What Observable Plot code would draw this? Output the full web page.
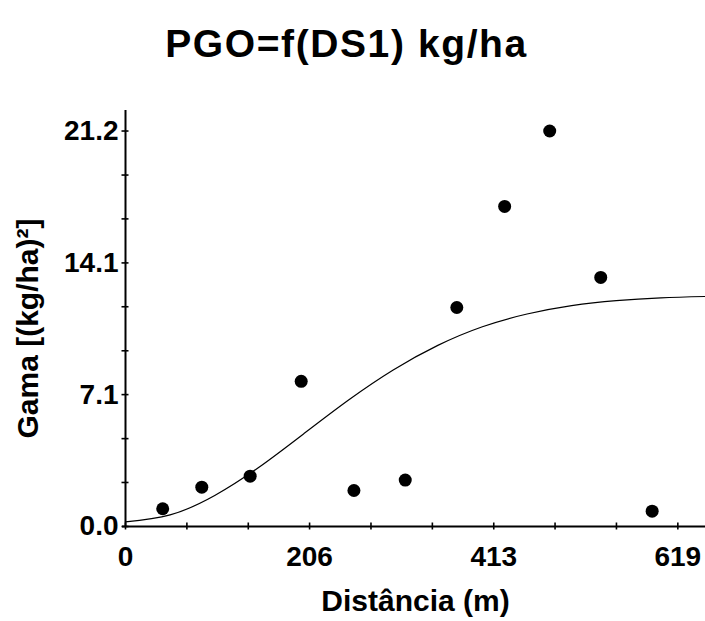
<!DOCTYPE html>
<html>
<head>
<meta charset="utf-8">
<script src="https://cdn.jsdelivr.net/npm/d3@7"></script>
<script src="https://cdn.jsdelivr.net/npm/@observablehq/plot@0.6"></script>
<style>
  html, body { margin: 0; padding: 0; background: #fff; }
  #wrap { position: relative; width: 705px; height: 621px; overflow: hidden; }
  #title { position: absolute; left: 0; top: 24px; width: 693px; text-align: center;
           font: bold 39px "Liberation Sans", Arial, sans-serif; letter-spacing: 1.6px; line-height: 1; color: #000; white-space: nowrap; }
  #chart { position: absolute; left: 0; top: 90px; }
</style>
</head>
<body>
<div id="wrap">
  <div id="title"></div>
  <div id="chart"></div>
</div>
<script>
// ---- data ----
const titleText = "PGO=f(DS1) kg/ha";
const xTitle = "Distância (m)";
const yTitle = "Gama [(kg/ha)²]";

const lagDistance = [41.7, 85.5, 139.7, 196.9, 256.0, 313.5, 371.3, 424.9, 475.4, 532.6, 590.2];
const gammaValues = [0.95, 2.11, 2.70, 7.78, 1.93, 2.49, 11.74, 17.16, 21.20, 13.35, 0.82];

const modelDistance = [0, 50, 100, 150, 200, 250, 300, 350, 400, 450, 500, 550, 600, 650];
const modelGamma = [0.25, 0.62, 1.66, 3.19, 4.98, 6.78, 8.39, 9.71, 10.71, 11.39, 11.84, 12.11, 12.26, 12.33];

const xTicks = [0, 68.8, 137.6, 206.3, 275.1, 343.9, 412.7, 481.4, 550.2, 619];
const xMajor = [0, 206.3, 412.7, 619];
const xLabels = ["0", "206", "413", "619"];

const yTicks = [0, 2.36, 4.71, 7.07, 9.42, 11.78, 14.13, 16.49, 18.84, 21.2];
const yMajor = [0, 7.07, 14.13, 21.2];
const yLabels = ["0.0", "7.1", "14.1", "21.2"];

// ---- build ----
document.getElementById("title").textContent = titleText;

const points = lagDistance.map((d, i) => ({x: d, y: gammaValues[i]}));
const model = modelDistance.map((d, i) => ({x: d, y: modelGamma[i]}));

const chart = Plot.plot({
  width: 705,
  height: 531,
  marginLeft: 125,
  marginRight: 0,
  marginTop: 20,
  marginBottom: 95,
  style: {fontFamily: "'Liberation Sans', Arial, sans-serif", fontWeight: "bold", fontSize: "28px", color: "#000", background: "#fff"},
  x: {domain: [0, 650]},
  y: {domain: [0, 22.3]},
  marks: [
    // axis lines
    Plot.ruleY([0], {stroke: "#000", strokeWidth: 2, insetLeft: -3}),
    Plot.ruleX([0], {stroke: "#000", strokeWidth: 2, insetBottom: -1}),
    // crossing ticks
    Plot.axisX(xTicks, {anchor: "bottom", tickSize: 7, dy: -3.5, strokeWidth: 1.6, tickFormat: () => "", label: null}),
    Plot.axisY(yTicks, {anchor: "left", tickSize: 7, dx: 3.5, strokeWidth: 1.6, tickFormat: () => "", label: null}),
    // tick labels
    Plot.axisX(xMajor, {anchor: "bottom", tickSize: 0, tickPadding: 20, tickFormat: d => xLabels[xMajor.indexOf(d)], label: null, fontSize: 28}),
    Plot.axisY(yMajor, {anchor: "left", tickSize: 0, tickPadding: 7, tickFormat: d => yLabels[yMajor.indexOf(d)], label: null, fontSize: 28}),
    // model curve
    Plot.line(model, {x: "x", y: "y", curve: "natural", stroke: "#000", strokeWidth: 1.2}),
    // experimental semivariogram points
    Plot.dot(points, {x: "x", y: "y", r: 6.5, fill: "#000", stroke: "none"}),
    // axis titles
    Plot.text([xTitle], {text: d => d, frameAnchor: "bottom", textAnchor: "middle", lineAnchor: "bottom", dy: 84, fontSize: 30, fill: "#000"}),
    Plot.text([yTitle], {text: d => d, frameAnchor: "left", textAnchor: "middle", lineAnchor: "bottom", rotate: -90, dx: -88, dy: 10, fontSize: 30, fill: "#000"})
  ]
});
document.getElementById("chart").appendChild(chart);
</script>
</body>
</html>
